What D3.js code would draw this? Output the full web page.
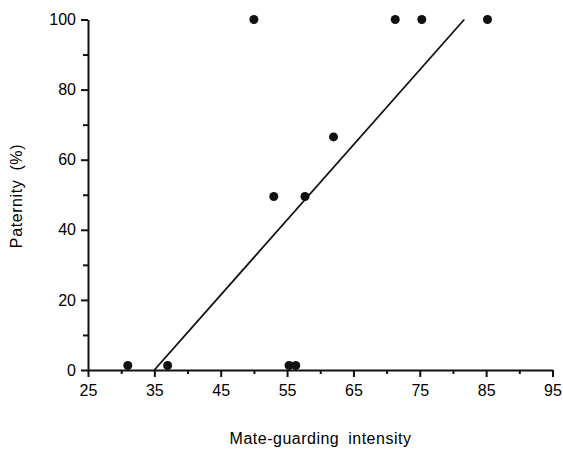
<!DOCTYPE html>
<html>
<head>
<meta charset="utf-8">
<script src="https://cdn.jsdelivr.net/npm/d3@7"></script>
<style>
  body { margin: 0; background: #fff; }
  text { font-family: "Liberation Sans", Arial, sans-serif; fill: #000; }
  .axis path, .axis line { stroke: #111; stroke-width: 2; }
  .axis text { font-size: 16px; font-family: "Liberation Sans", Arial, sans-serif; fill: #000; }
</style>
</head>
<body>
<div id="chart"></div>
<script>
// values
var guarding = [31, 37, 50, 53, 55.3, 56.3, 57.7, 62, 71.3, 75.3, 85.2];
var paternity = [1.3, 1.3, 100, 49.5, 1.3, 1.3, 49.5, 66.5, 100, 100, 100];

// fitted line end points
var fitX = [35, 81.7];
var fitY = [0, 100];

var xTicks = [25, 35, 45, 55, 65, 75, 85, 95];
var xMinor = [30, 40, 50, 60, 70, 80, 90];
var yTicks = [0, 20, 40, 60, 80, 100];
var yMinor = [10, 30, 50, 70, 90];

var svgWidth = 563;
var svgHeight = 449;

var margin = {
    top: 19.5,
    right: 10.5,
    bottom: 79,
    left: 88
};

var width = svgWidth - margin.left - margin.right;
var height = svgHeight - margin.top - margin.bottom;

var svg = d3.select("#chart")
    .append("svg")
    .attr("width", svgWidth)
    .attr("height", svgHeight);

var chartGroup = svg.append("g")
    .attr("transform", `translate(${margin.left}, ${margin.top})`);

var xLinearScale = d3.scaleLinear()
    .domain([25, 95])
    .range([0, width]);

var yLinearScale = d3.scaleLinear()
    .domain([0, 100])
    .range([height, 0]);

// minor ticks first, then the main axes on top
chartGroup.append("g")
    .classed("axis", true)
    .attr("transform", `translate(0, ${height})`)
    .call(d3.axisBottom(xLinearScale).tickValues(xMinor).tickSize(4).tickFormat(""))
    .select(".domain").remove();

chartGroup.append("g")
    .classed("axis", true)
    .call(d3.axisLeft(yLinearScale).tickValues(yMinor).tickSize(5).tickFormat(""))
    .select(".domain").remove();

chartGroup.append("g")
    .classed("axis", true)
    .attr("transform", `translate(0, ${height})`)
    .call(d3.axisBottom(xLinearScale).tickValues(xTicks).tickSize(7).tickSizeOuter(0).tickPadding(8));

chartGroup.append("g")
    .classed("axis", true)
    .call(d3.axisLeft(yLinearScale).tickValues(yTicks).tickSize(7).tickSizeOuter(0).tickPadding(5));

// regression line
var line = d3.line()
    .x(d => xLinearScale(d[0]))
    .y(d => yLinearScale(d[1]));

chartGroup.append("path")
    .datum(d3.zip(fitX, fitY))
    .attr("d", line)
    .attr("fill", "none")
    .attr("stroke", "#111")
    .attr("stroke-width", 1.8);

chartGroup.selectAll("circle")
    .data(d3.zip(guarding, paternity))
    .enter()
    .append("circle")
    .attr("cx", d => xLinearScale(d[0]))
    .attr("cy", d => yLinearScale(d[1]))
    .attr("r", 4.5)
    .attr("fill", "#111");

svg.append("text")
    .attr("x", 320.5)
    .attr("y", 444)
    .style("font-size", "16px")
    .style("letter-spacing", "0.5px")
    .style("word-spacing", "4px")
    .style("text-anchor", "middle")
    .text("Mate-guarding intensity");

svg.append("text")
    .attr("transform", "translate(21.5, 196) rotate(-90)")
    .style("font-size", "16px")
    .style("letter-spacing", "0.6px")
    .style("word-spacing", "4px")
    .style("text-anchor", "middle")
    .text("Paternity (%)");
</script>
</body>
</html>
